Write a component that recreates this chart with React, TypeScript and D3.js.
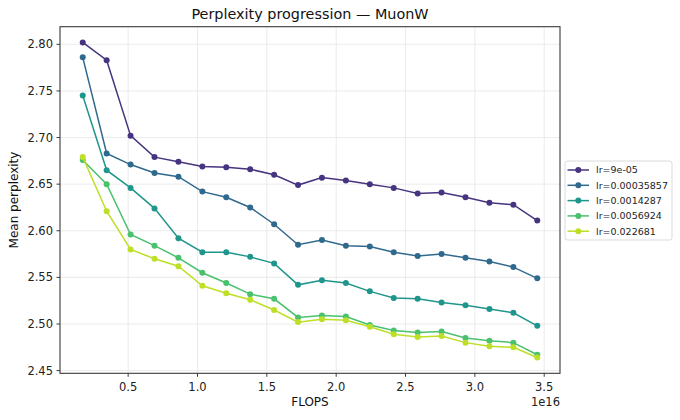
import React from 'react';
import * as d3 from 'd3';

const flops = [0.1725, 0.345, 0.5175, 0.69, 0.8625, 1.035, 1.2075, 1.38, 1.5525, 1.725,
  1.8975, 2.07, 2.2425, 2.415, 2.5875, 2.76, 2.9325, 3.105, 3.2775, 3.45];

const lrLabels = ['lr=9e-05', 'lr=0.00035857', 'lr=0.0014287', 'lr=0.0056924', 'lr=0.022681'];

const lr9e5 = [2.802, 2.783, 2.702, 2.679, 2.674, 2.669, 2.668, 2.666, 2.660, 2.649,
  2.657, 2.654, 2.650, 2.646, 2.640, 2.641, 2.636, 2.630, 2.628, 2.611];
const lr3e4 = [2.786, 2.683, 2.671, 2.662, 2.658, 2.642, 2.636, 2.625, 2.607, 2.585,
  2.590, 2.584, 2.583, 2.577, 2.573, 2.575, 2.571, 2.567, 2.561, 2.549];
const lr1e3 = [2.745, 2.665, 2.646, 2.624, 2.592, 2.577, 2.577, 2.572, 2.565, 2.542,
  2.547, 2.544, 2.535, 2.528, 2.527, 2.523, 2.520, 2.516, 2.512, 2.498];
const lr6e3 = [2.676, 2.650, 2.596, 2.584, 2.571, 2.555, 2.544, 2.532, 2.527, 2.507,
  2.509, 2.508, 2.499, 2.493, 2.491, 2.492, 2.485, 2.482, 2.480, 2.467];
const lr2e2 = [2.679, 2.621, 2.580, 2.570, 2.562, 2.541, 2.533, 2.526, 2.515, 2.502,
  2.505, 2.504, 2.497, 2.489, 2.486, 2.487, 2.480, 2.476, 2.475, 2.464];

const series = [lr9e5, lr3e4, lr1e3, lr6e3, lr2e2];
const colorStops = [0.15, 0.3375, 0.525, 0.7125, 0.9];

const xTicks = [0.5, 1.0, 1.5, 2.0, 2.5, 3.0, 3.5];
const yTicks = [2.45, 2.5, 2.55, 2.6, 2.65, 2.7, 2.75, 2.8];

const W = 680;
const H = 420;
const left = 60, right = 560, top = 26.7, bottom = 373.3;
const font = 'DejaVu Sans, sans-serif';

export default function App() {
  const xPad = (d3.max(flops)! - d3.min(flops)!) * 0.05;
  const x = d3.scaleLinear()
    .domain([d3.min(flops)! - xPad, d3.max(flops)! + xPad])
    .range([left, right]);

  const all = series.flat();
  const yPad = (d3.max(all)! - d3.min(all)!) * 0.05;
  const y = d3.scaleLinear()
    .domain([d3.min(all)! - yPad, d3.max(all)! + yPad])
    .range([bottom, top]);

  const line = d3.line<number>()
    .x((_, i) => x(flops[i]))
    .y(d => y(d));

  const colors = colorStops.map(t => d3.interpolateViridis(t));

  return (
    <svg width={W} height={H} style={{ position: 'absolute', left: 0, top: 0, background: '#fff' }}
      fontFamily={font}>
      {/* grid */}
      {xTicks.map(t => (
        <line key={'gx' + t} x1={x(t)} x2={x(t)} y1={top} y2={bottom} stroke="#e6e6e6" strokeWidth={0.8} />
      ))}
      {yTicks.map(t => (
        <line key={'gy' + t} x1={left} x2={right} y1={y(t)} y2={y(t)} stroke="#e6e6e6" strokeWidth={0.8} />
      ))}

      {/* series */}
      {series.map((s, k) => (
        <g key={lrLabels[k]}>
          <path d={line(s)!} fill="none" stroke={colors[k]} strokeWidth={1.5} />
          {s.map((v, i) => (
            <circle key={i} cx={x(flops[i])} cy={y(v)} r={3} fill={colors[k]} />
          ))}
        </g>
      ))}

      {/* frame */}
      <rect x={left} y={top} width={right - left} height={bottom - top} fill="none" stroke="#3a3a3a" strokeWidth={1.1} />

      {/* x ticks */}
      {xTicks.map(t => (
        <g key={'xt' + t}>
          <line x1={x(t)} x2={x(t)} y1={bottom} y2={bottom + 3.5} stroke="#3a3a3a" />
          <text x={x(t)} y={391} fontSize={11.5} textAnchor="middle" fill="#222">{t.toFixed(1)}</text>
        </g>
      ))}
      {yTicks.map(t => (
        <g key={'yt' + t}>
          <line x1={left - 3.5} x2={left} y1={y(t)} y2={y(t)} stroke="#3a3a3a" />
          <text x={left - 7} y={y(t)} dy="0.35em" fontSize={11.5} textAnchor="end" fill="#222">{t.toFixed(2)}</text>
        </g>
      ))}

      {/* labels */}
      <text x={(left + right) / 2} y={19} fontSize={14.4} textAnchor="middle" fill="#111">Perplexity progression — MuonW</text>
      <text x={(left + right) / 2} y={406} fontSize={12} textAnchor="middle" fill="#111">FLOPS</text>
      <text x={right} y={406} fontSize={11.5} textAnchor="end" fill="#222">1e16</text>
      <text transform={`translate(18, ${(top + bottom) / 2}) rotate(-90)`} fontSize={12} textAnchor="middle" fill="#111">Mean perplexity</text>

      {/* legend */}
      <rect x={565} y={161} width={107} height={79} rx={2.5} fill="#fff" fillOpacity={0.85} stroke="#d0d0d0" strokeWidth={0.8} />
      {lrLabels.map((lab, k) => {
        const ly = 170 + k * 15.3;
        return (
          <g key={'lg' + lab}>
            <line x1={567.5} x2={589} y1={ly} y2={ly} stroke={colors[k]} strokeWidth={1.5} />
            <circle cx={578.3} cy={ly} r={3} fill={colors[k]} />
            <text x={596} y={ly} dy="0.35em" fontSize={9.5} fill="#222">{lab}</text>
          </g>
        );
      })}
    </svg>
  );
}
